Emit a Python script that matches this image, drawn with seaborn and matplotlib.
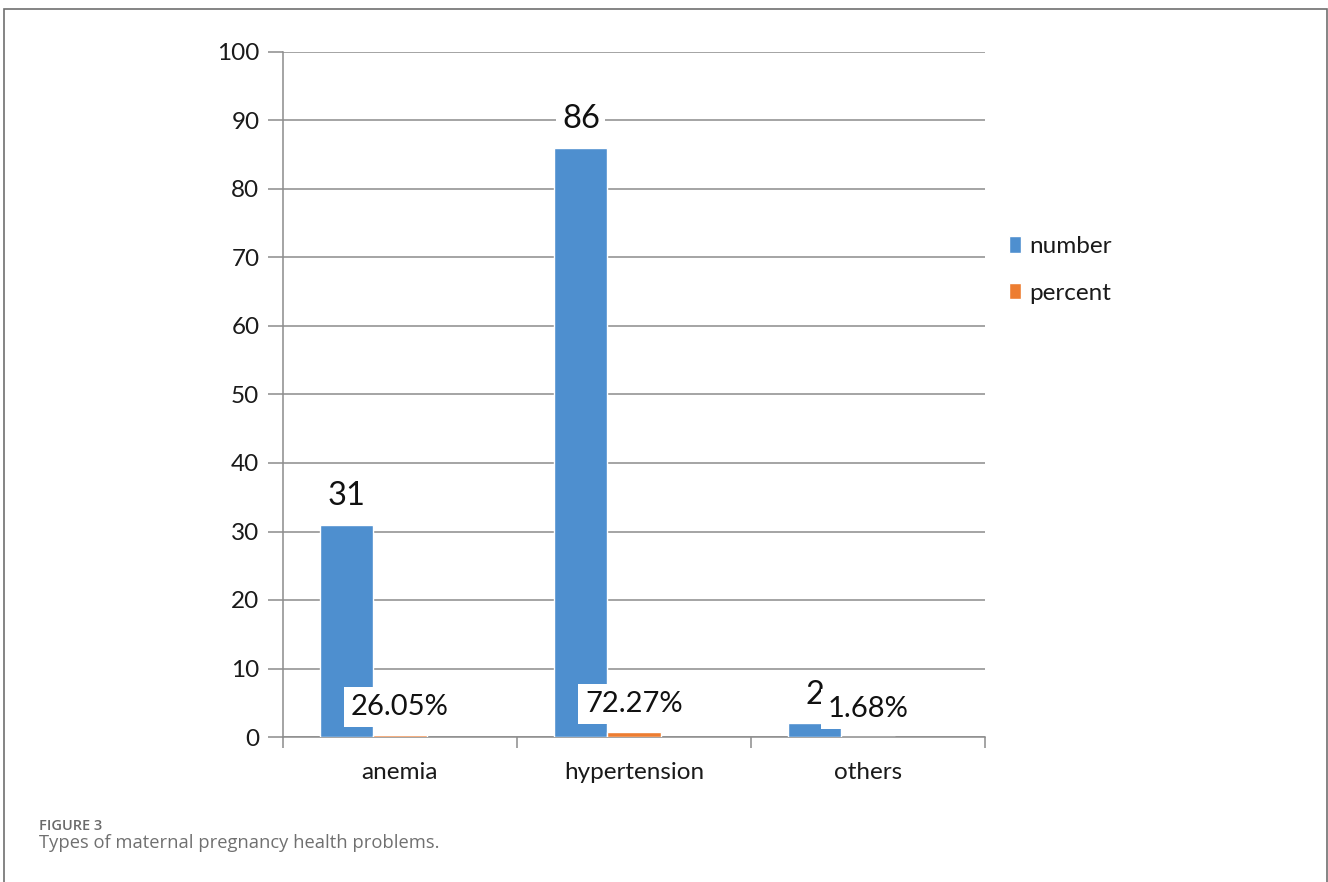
import matplotlib
matplotlib.use("Agg")
import matplotlib.pyplot as plt
import seaborn as sns
import pandas as pd
from matplotlib.patches import Rectangle

categories = ["anemia", "hypertension", "others"]
number_values = [31, 86, 2]
percent_values = [0.2605, 0.7227, 0.0168]
percent_labels = ["26.05%", "72.27%", "1.68%"]
series_names = ["number", "percent"]
yticks = [0, 10, 20, 30, 40, 50, 60, 70, 80, 90, 100]

sns.set_theme(style="white")
plt.rcParams['font.family'] = ['Lato', 'DejaVu Sans']

df = pd.DataFrame({
    "category": categories * 2,
    "series": [series_names[0]] * 3 + [series_names[1]] * 3,
    "value": number_values + percent_values,
})

fig = plt.figure(figsize=(13.28, 8.82), dpi=100)
ax = fig.add_axes([283/1328, 1 - 737/882, (985-283)/1328, (737-52)/882])

# third, empty slot keeps the Excel-like left-shifted bar group
hue_slots = series_names + [" "]
palette = {"number": "#4E8FCF", "percent": "#ED7D31", " ": "#ffffff"}
group_width = 0.68
sns.barplot(data=df, x="category", y="value", hue="series", order=categories,
            hue_order=hue_slots, palette=palette, width=group_width, saturation=1,
            ax=ax, legend=True, zorder=3)

fs = 17.5
ax.set_ylim(0, 100)
ax.set_xlim(-0.5, 2.5)
ax.set_yticks(yticks)
ax.set_yticklabels([str(t) for t in yticks], fontsize=fs, color="#1a1a1a")
ax.yaxis.grid(True, color="#8c8c8c", linewidth=1.1, zorder=0)
ax.set_axisbelow(True)
ax.set_xlabel("")
ax.set_ylabel("")
for s in ["top", "right"]:
    ax.spines[s].set_visible(False)
ax.spines["left"].set_color("#8c8c8c")
ax.spines["bottom"].set_color("#8c8c8c")
ax.spines["left"].set_linewidth(1.1)
ax.spines["bottom"].set_linewidth(1.1)
ax.tick_params(axis="y", which="major", left=True, length=11, width=1.1, color="#8c8c8c", pad=6)

ax.set_xticks(range(len(categories)))
ax.set_xticklabels(categories, fontsize=fs, color="#1a1a1a")
ax.tick_params(axis="x", which="major", bottom=False, pad=12)
ax.set_xticks([-0.5, 0.5, 1.5, 2.5], minor=True)
ax.tick_params(axis="x", which="minor", bottom=True, length=8, width=1.1, color="#8c8c8c")

bw = group_width / 3
for i, v in enumerate(number_values):
    ax.text(i - bw, v + 4.2, str(v), ha="center", va="center", fontsize=23.5,
            color="#111111", zorder=5,
            bbox=dict(facecolor="white", edgecolor="none", pad=4))
for i, (v, lab) in enumerate(zip(percent_values, percent_labels)):
    ax.text(i, v + 4.1, lab, ha="center", va="center", fontsize=21,
            color="#111111", zorder=5,
            bbox=dict(facecolor="white", edgecolor="none", pad=5))

handles, labels = ax.get_legend_handles_labels()
keep = [k for k, l in enumerate(labels) if l in series_names]
leg = ax.legend([handles[k] for k in keep], [labels[k] for k in keep],
                loc="center left", bbox_to_anchor=(1.02, 0.682), frameon=False,
                fontsize=fs, handlelength=0.5, handleheight=0.65, handletextpad=0.35,
                labelspacing=1.05, borderaxespad=0)
for t in leg.get_texts():
    t.set_color("#1a1a1a")

fig.patches.append(Rectangle((4/1328, -0.01), (1327-4)/1328, 1.01 - 9/882, transform=fig.transFigure,
                             fill=False, edgecolor="#707070", linewidth=1.2))
fig.text(39/1328, 1 - 826/882, "FIGURE 3", fontsize=10.5, color="#6a6a6a", fontweight="semibold",
         family=["Open Sans", "DejaVu Sans"], va="center", ha="left")
fig.text(39/1328, 1 - 843/882, "Types of maternal pregnancy health problems.", fontsize=13.2,
         color="#707070", family=["Open Sans", "DejaVu Sans"], va="center", ha="left")

fig.savefig("out.png", dpi=100)
